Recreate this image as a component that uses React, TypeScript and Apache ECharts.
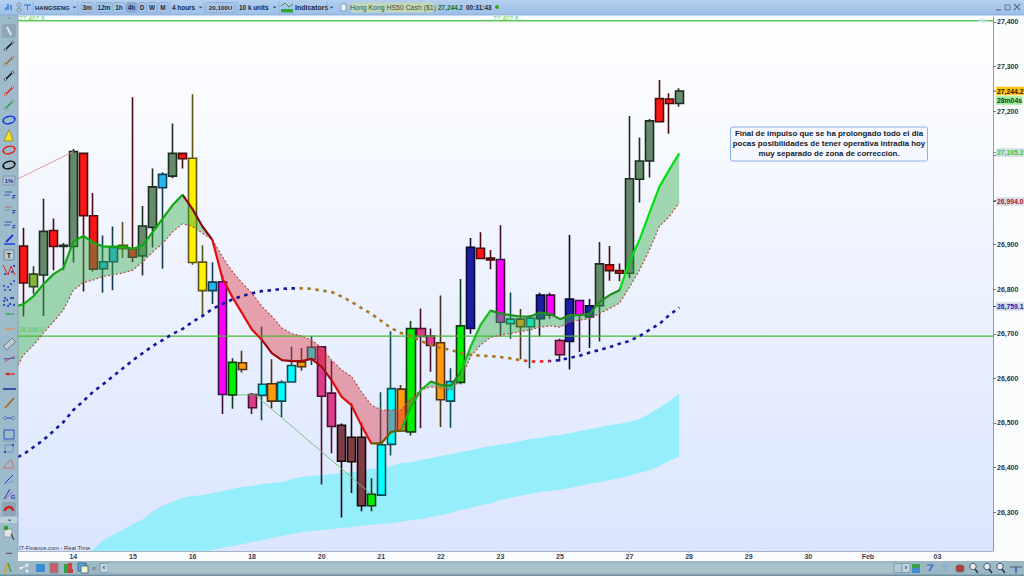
import React, { useEffect, useRef } from "react";
import * as echarts from "echarts";

const candleColors = ["r","ol","gg","r","gg","gg","r","r","bl","bl","y","r","gg","gg","bl","gg","r","y","y","bl","m","g","o","p","c","o","c","c","o","c","p","p","br","br","br","g","c","c","o","g","p","p","o","c","g","n","r","r","m","c","o","c","n","m","p","n","m","n","gg","r","r","gg","gg","gg","r","r","gg"];
const bodyTop = [26897,26834,26930,26932,26899,27109,27105,26965,26862,26894,26899,26891,26942,27030,27058,27105,27105,27094,26861,26816,26817,26636,26635,26564,26587,26588,26591,26629,26637,26670,26671,26567,26495,26468,26468,26340,26451,26577,26576,26712,26712,26695,26680,26593,26718,26894,26892,26870,26867,26733,26733,26735,26787,26787,26685,26778,26775,26763,26857,26855,26842,27048,27088,27178,27228,27227,27245];
const bodyBottom = [26814,26806,26832,26896,26896,26896,26965,26845,26846,26862,26891,26872,26875,26939,27028,27054,27093,26860,26797,26797,26564,26563,26620,26534,26562,26549,26549,26592,26626,26643,26560,26492,26414,26413,26314,26314,26338,26452,26482,26480,26694,26674,26552,26549,26591,26712,26869,26866,26726,26723,26716,26716,26734,26742,26653,26683,26743,26738,26763,26842,26836,26836,27047,27088,27176,27217,27217];
const highs = [26938,26852,27003,26959,26904,27115,27106,27016,26921,26941,26951,27231,26987,27071,27063,27172,27105,27238,26899,26861,26832,26645,26662,26567,26716,26643,26596,26671,26668,26695,26673,26639,26499,26544,26501,26376,26569,26706,26585,26729,26757,26712,26786,26623,26823,26915,26928,26888,26944,26793,26756,26742,26792,26792,26689,26922,26776,26778,26906,26897,26858,27189,27141,27182,27270,27240,27251];
const lows = [26739,26790,26740,26843,26843,26860,26795,26840,26792,26798,26870,26861,26831,26894,26846,27049,27071,26855,26742,26767,26520,26532,26613,26520,26506,26533,26513,26592,26617,26630,26362,26432,26288,26343,26302,26302,26338,26427,26480,26472,26488,26615,26491,26489,26587,26700,26869,26845,26694,26689,26643,26623,26694,26734,26638,26620,26659,26668,26683,26819,26818,26825,26995,27051,27176,27149,27210];

// First value of each line belongs to the left edge of the plot, the rest to candles 0..66.
const fastLine = [26763,26767,26785,26812,26834,26848,26907,26920,26905,26896,26896,26896,26891,26899,26929,26959,26989,27012,26980,26941,26911,26825,26783,26746,26709,26686,26656,26641,26639,26639,26644,26626,26596,26559,26540,26495,26454,26454,26480,26483,26537,26574,26593,26585,26584,26613,26671,26720,26752,26746,26742,26739,26739,26748,26745,26733,26742,26742,26745,26772,26787,26798,26862,26911,26971,27030,27068,27105];
const slowLine = [26630,26653,26675,26702,26727,26754,26798,26815,26821,26829,26832,26837,26843,26862,26884,26903,26929,26947,26941,26926,26911,26873,26840,26814,26791,26761,26739,26713,26700,26695,26686,26668,26641,26619,26604,26570,26540,26529,26529,26529,26555,26574,26581,26578,26574,26596,26649,26675,26692,26697,26701,26705,26709,26715,26718,26715,26727,26731,26734,26746,26757,26769,26805,26843,26888,26941,26963,26994];
const longLine = [26424,26430,26446,26462,26482,26502,26529,26549,26570,26587,26605,26623,26641,26657,26673,26686,26700,26711,26727,26740,26756,26767,26777,26785,26791,26796,26798,26801,26802,26802,26801,26797,26794,26784,26772,26758,26745,26729,26713,26702,26694,26684,26675,26668,26664,26657,26653,26651,26650,26648,26645,26641,26638,26638,26639,26641,26646,26651,26658,26664,26670,26678,26684,26695,26709,26722,26742,26759];

// Cloud starts at candle 6; values under the axis floor are clipped by the plot.
const cloudUpper = [26199,26217,26237,26249,26260,26273,26284,26302,26314,26323,26332,26336,26338,26343,26347,26352,26356,26359,26363,26365,26367,26374,26379,26381,26383,26385,26388,26390,26392,26397,26399,26403,26410,26412,26417,26421,26426,26430,26435,26439,26444,26448,26451,26455,26459,26464,26466,26471,26473,26477,26482,26486,26491,26495,26498,26502,26509,26520,26534,26549,26565];
const cloudLower = [26190,26190,26190,26190,26190,26190,26190,26190,26190,26190,26190,26190,26208,26215,26220,26224,26228,26233,26237,26242,26246,26251,26255,26257,26260,26262,26264,26266,26269,26271,26273,26275,26278,26282,26284,26289,26293,26298,26305,26309,26316,26320,26327,26332,26336,26341,26345,26347,26350,26354,26359,26363,26367,26372,26376,26381,26388,26394,26403,26415,26424];

const trendRed = [[-0.574, 27048], [5, 27109]];
const trendGreen = [[21.5, 26563], [23.3, 26563], [35, 26340]];
const levelTop = 27402.8;
const levelMid = 26695;

const yTicks = [26300,26400,26500,26600,26700,26800,26900,27000,27100,27200,27300,27400];
const yLabelsHiddenByTags = [27100];
const xTickPositions = [5,11,17,23,30,36,42,48,54,61,67,73,79,85,92];
const xTickLabels = ["14","15","16","18","20","21","22","23","25","27","28","29","30","Feb","03"];
const noteLines = ["Final de impulso que se ha prolongado todo el dia","pocas posibilidades de tener operativa intradia hoy","muy separado de zona de correccion."];

const X_MIN = -0.574;
const X_MAX = 97.6;
const PALETTE: any = {
  r: ["#ff1414", "#4a0c0c"], ol: ["#84b63c", "#2c4418"], gg: ["#668a6c", "#1c2c1e"], bl: ["#27b6ee", "#0e3c50"],
  y: ["#fff200", "#5c5414"], m: ["#ff00ff", "#3c1040"], g: ["#00f000", "#0c3c0c"], o: ["#ff9a10", "#4c3010"],
  p: ["#dc3c8c", "#4a1030"], c: ["#00ffff", "#0e4c54"], br: ["#7d3c46", "#140808"], n: ["#1a1fa4", "#0a0a30"],
};
const FONT = '"Liberation Sans", Arial, sans-serif';

const linePts = (vals: number[]) => vals.map((v, k) => [k === 0 ? X_MIN : k - 1, v]);

function runsOf(upper: number[], lower: number[]) {
  const runs: any[] = [];
  for (let k = 0; k + 1 < upper.length; k++) {
    const sign = upper[k] + upper[k + 1] - lower[k] - lower[k + 1] >= 0 ? 1 : -1;
    const last = runs[runs.length - 1];
    if (last && last.sign === sign) last.to = k + 1;
    else runs.push({ from: k, to: k + 1, sign });
  }
  return runs;
}

function bandSeries(name: string, xs: number[], upper: number[], lower: number[], up: string, down: string, z: number) {
  const runs = runsOf(upper, lower);
  return {
    type: "custom", name, z, clip: true, silent: true,
    data: runs.map((r) => [xs[r.from], upper[r.from]]),
    renderItem: (params: any, api: any) => {
      const r = runs[params.dataIndex];
      const pts: number[][] = [];
      for (let k = r.from; k <= r.to; k++) pts.push(api.coord([xs[k], upper[k]]));
      for (let k = r.to; k >= r.from; k--) pts.push(api.coord([xs[k], lower[k]]));
      return { type: "polygon", shape: { points: pts }, style: { fill: r.sign > 0 ? up : down } };
    },
  };
}

function chromeGraphics() {
  const els: any[] = [];
  const txt = (text: string, x: number, y: number, o: any = {}) =>
    els.push({ type: "text", z: 100, style: { text, x, y, fill: o.fill || "#1c2a3c", font: `${o.weight || "normal"} ${o.size || 7}px ${FONT}`, align: o.align || "left", verticalAlign: "middle", backgroundColor: o.bg, padding: o.pad, opacity: o.opacity } });
  const rect = (x: number, y: number, w: number, h: number, fill: string, stroke?: string, r = 0) =>
    els.push({ type: "rect", z: 99, shape: { x, y, width: w, height: h, r }, style: { fill, stroke, lineWidth: stroke ? 0.8 : 0 } });
  const seg = (x1: number, y1: number, x2: number, y2: number, stroke: string, lineWidth = 1.2) =>
    els.push({ type: "line", z: 101, shape: { x1, y1, x2, y2 }, style: { stroke, lineWidth } });
  const dot = (cx: number, cy: number, r: number, fill: string, stroke?: string) =>
    els.push({ type: "circle", z: 101, shape: { cx, cy, r }, style: { fill, stroke, lineWidth: 0.8 } });
  const oval = (cx: number, cy: number, rx: number, ry: number, stroke: string) => {
    els.push({ type: "ellipse", z: 101, shape: { cx: 0, cy: 0, rx, ry }, x: cx, y: cy, rotation: 0.25, style: { fill: "none", stroke, lineWidth: 1.5 } });
    dot(cx - rx + 0.5, cy + 1.5, 0.9, stroke); dot(cx + rx - 0.5, cy - 1.5, 0.9, stroke);
  };
  const tool = (y: number, stroke: string, head: string) => {
    seg(5, y + 4, 13, y - 4, stroke, 1.6); dot(5.5, y + 3.5, 1.2, "#dfe8ee", head); dot(12.5, y - 3.5, 1.2, "#dfe8ee", head);
  };

  // panels
  rect(0, 0, 1024, 15, new echarts.graphic.LinearGradient(0, 0, 0, 1, [{ offset: 0, color: "#b4cfef" }, { offset: 1, color: "#9dbfe8" }]) as any);
  seg(0, 15, 1024, 15, "#7ea6d6", 0.8);
  rect(0, 15, 18, 546, "#9dbbca");
  seg(18, 16, 18, 551, "#8298a8", 0.8);
  rect(0, 561, 1024, 15, "#9cb8c4");
  rect(0, 574.5, 1024, 1.5, "#6f8ea0");

  // top toolbar
  [[33, 43], [78, 92], [170, 34], [204, 33], [237, 37], [279, 48], [327, 7]].forEach(([x, w]) => seg(x, 1, x, 14, "#8aaedb", 0.7));
  seg(5, 10, 7, 7, "#3a7fd0", 1.5); seg(8, 10, 8, 4, "#3a7fd0", 1.5); seg(11, 10, 11, 5, "#3a7fd0", 1.5);
  dot(19, 5, 2, "#b8c8d8", "#708090"); dot(19, 10, 2, "#b8c8d8", "#708090");
  seg(24, 5, 31, 5, "#3a7fd0", 1.2); seg(27.5, 5, 27.5, 10, "#3a7fd0", 1);
  txt("HANGSENG", 35, 7.5, { weight: "bold", size: 6 });
  txt("⌄", 72, 6, { size: 6, weight: "bold" });
  const buttons: [string, number, number][] = [["3m", 81, 12], ["12m", 96, 16], ["1h", 113, 12], ["4h", 126, 11], ["D", 138, 8], ["W", 147, 10], ["M", 158, 10]];
  buttons.forEach(([label, x, w]) => {
    rect(x, 2.5, w, 10, label === "4h" ? "#8ea9c9" : "#a9c6ea", "#88a8d0", 2);
    txt(label, x + w / 2, 7.5, { weight: "bold", size: 6.4, align: "center" });
  });
  txt("4 hours", 172, 7.5, { weight: "bold", size: 6.4 });
  txt("⌄", 198, 6, { size: 6, weight: "bold" });
  rect(206, 2.5, 29, 10, "#a9c6ea", "#88a8d0", 2);
  txt("20,100U", 220.5, 7.5, { weight: "bold", size: 6.2, align: "center" });
  txt("10 k units", 239, 7.5, { weight: "bold", size: 6.4 });
  txt("⌄", 272, 6, { size: 6, weight: "bold" });
  seg(281, 6, 285, 3, "#3c8c50", 1); seg(285, 3, 289, 7, "#3c8c50", 1); seg(289, 7, 293, 4, "#3c8c50", 1);
  rect(281, 9, 12, 3.5, "#2fa83a");
  txt("Indicators", 295, 7.5, { weight: "bold", size: 7 });
  txt("⌄", 329, 6, { size: 6, weight: "bold" });
  rect(341, 4, 5, 7, "#eef2f6", "#8090a0");
  rect(351, 2.5, 84, 10, "#c2d8bc", undefined, 3);
  txt("Hong Kong HS50 Cash ($1)", 393, 7.5, { size: 6.9, align: "center", fill: "#37503c" });
  txt("27,244.2", 438, 7.5, { weight: "bold", size: 6.4, fill: "#146c2c" });
  txt("00:31:43", 466, 7.5, { weight: "bold", size: 6.4 });
  dot(497, 7, 2, "#38a818");
  seg(996, 10, 1001, 10, "#5c6c80", 1.2);
  rect(1005, 5, 5, 5, "none", "#5c6c80");
  seg(1014, 4, 1020, 10, "#5c6c80", 1.2); seg(1020, 4, 1014, 10, "#5c6c80", 1.2);

  // left toolbar
  txt("^", 9, 19, { size: 6, align: "center", fill: "#607080" });
  rect(2, 24, 14, 14, "#8ea6b6", undefined, 2);
  seg(7, 27, 11, 35, "#dde4ea", 2);
  tool(46, "#111111", "#333333"); tool(61, "#a06a2c", "#805020"); tool(76, "#111111", "#333333"); tool(91, "#e02020", "#c02020"); tool(105, "#2f9a50", "#2f8a40");
  oval(9, 120, 6, 3.6, "#1838e0");
  els.push({ type: "polygon", z: 101, shape: { points: [[4, 141], [13, 141], [11, 134], [9, 130], [7, 134]] }, style: { fill: "#f0e020", stroke: "#807010", lineWidth: 0.6 } });
  oval(9, 150, 6, 3.6, "#e02020"); oval(9, 165, 6, 3.6, "#101010");
  rect(3, 176, 12, 9, "#a9bccb", "#8090b0"); txt("1%", 9, 181, { size: 6, weight: "bold", align: "center", fill: "#2040a0" });
  const fibs = [195, 210, 225];
  fibs.forEach((y, k) => { seg(5, y - 3, 12, y - 3, k === 1 ? "#b06a60" : "#3050b0", 0.9); seg(4, y, 10, y, k === 1 ? "#60a070" : "#3050b0", 0.9); txt("F", 14, y + 2, { size: 6, weight: "bold", align: "center", fill: "#1838c8" }); });
  seg(4, 244, 15, 244, "#1838e0", 1.4); seg(6, 242, 13, 235, "#1838e0", 1.8);
  rect(4, 250, 10, 10, "#b8c8d4", "#607890", 1); txt("T", 9, 255.5, { size: 7, weight: "bold", align: "center", fill: "#222" });
  seg(3, 265, 8, 275, "#e02020", 1); seg(8, 275, 11, 266, "#e02020", 1); seg(11, 266, 15, 275, "#e02020", 1); dot(5, 274, 1, "#1838c8"); dot(12, 272, 1, "#1838c8"); dot(14, 266, 1, "#1838c8");
  [[5, 290], [8, 287], [11, 284], [14, 281], [4, 286], [10, 290]].forEach(([x, y]) => dot(x, y, 0.9, "#1838c8"));
  [[4, 305], [7, 300], [10, 304], [13, 298], [5, 298], [11, 298], [14, 305], [8, 306], [4, 301]].forEach(([x, y]) => dot(x, y, 1, "#1838c8"));
  seg(5, 314, 14, 314, "#30b050", 1.1); dot(8, 314, 1.1, "#30b050");
  seg(5, 329, 15, 329, "#e09060", 1.1); dot(8, 329, 1.1, "#e09060");
  els.push({ type: "rect", z: 101, shape: { x: -6, y: -2.5, width: 12, height: 5 }, x: 9.5, y: 344, rotation: 0.75, style: { fill: "#c0ccd4", stroke: "#607080", lineWidth: 0.8 } });
  seg(4, 362, 15, 356, "#c06060", 1); seg(4, 359, 15, 358, "#3050c0", 1); dot(9, 359, 1, "#e06020");
  seg(5, 374, 15, 374, "#e02020", 1.2); dot(8, 374, 1.4, "#e02020");
  seg(3, 389, 16, 389, "#1a2ea0", 1.5);
  seg(5, 408, 14, 398, "#a06a2c", 1.8);
  seg(5, 418, 13, 418, "#3050c0", 1); dot(5, 418, 1.3, "#e8eef2", "#2040a0"); dot(13, 418, 1.3, "#e8eef2", "#2040a0");
  rect(4, 430, 10, 9, "none", "#1838c8"); seg(3, 441, 16, 441, "#7090b0", 0.8);
  rect(5, 445, 8, 7, "none", "#6080c0"); dot(5, 452, 1, "#1838c8"); dot(13, 445, 1, "#1838c8");
  els.push({ type: "polygon", z: 101, shape: { points: [[3, 468], [14, 468], [11, 459]] }, style: { fill: "none", stroke: "#d06868", lineWidth: 0.9 } });
  seg(4, 484, 13, 475, "#1838c8", 1); seg(4, 484, 14, 481, "#70a0e0", 1);
  seg(4, 499, 10, 489, "#1838c8", 1); seg(5, 499, 13, 492, "#c060a0", 1); txt("G", 13, 497, { size: 6, weight: "bold", fill: "#1838c8", align: "center" });
  rect(2, 502, 14, 14, "#8ea6b6", undefined, 2);
  els.push({ type: "arc", z: 101, shape: { cx: 9, cy: 511, r: 4, startAngle: Math.PI, endAngle: 0 }, style: { stroke: "#d02020", lineWidth: 2.4, fill: "none" } });
  rect(0, 517, 18, 6, "#bcd2da");
  txt("⌄", 9, 518.5, { size: 6, weight: "bold", align: "center" });
  rect(4, 529, 8, 8, "#dfe6ea", "#8090a0"); dot(6, 528, 2.2, "#28a028"); seg(11, 534, 14, 540, "#404040", 1.2);
  txt("•••", 9, 553, { size: 6, weight: "bold", align: "center", fill: "#404860" });

  // bottom toolbar
  seg(4, 573, 8, 563, "#e0a010", 1.5); seg(8, 563, 11, 572, "#40a040", 1.5);
  seg(20, 568, 27, 566, "#e8eef2", 1); dot(21, 568, 1.4, "#f0f4f8"); dot(27, 565, 1.4, "#f0f4f8"); dot(27, 571, 1.4, "#f0f4f8");
  rect(36, 564, 9, 8, "#3a8ad8", undefined, 1);
  rect(50, 563, 8, 10, "#c8606a", "#788890");
  rect(64, 564, 4, 9, "#30a040"); rect(68, 563, 4, 6, "#d84040"); rect(68, 569, 5, 4, "#c04040");
  rect(78, 563, 8, 8, "#60a8e0", "#385878"); rect(81, 566, 7, 7, "#f0f4d0", "#385878");
  txt("«", 94, 568, { size: 7, align: "center", fill: "#506070" });
  rect(100, 563.5, 8, 9, "#c4d4dc", "#7a94a4"); txt("‹", 104, 567.5, { size: 7, align: "center", weight: "bold" });
  rect(108, 563.5, 786, 9, "#a8c2cc");
  rect(894, 563.5, 8, 9, "#b4cad2", "#7a94a4");
  rect(902, 563.5, 8, 9, "#c4d4dc", "#7a94a4"); txt("›", 906, 567.5, { size: 7, align: "center", weight: "bold" });
  rect(912, 564, 8, 4, "#38a048"); rect(912, 568, 8, 5, "#4090d0");
  seg(929, 571, 933, 565, "#3a70c8", 1.6); seg(933, 565, 927, 565, "#3a70c8", 1.2);
  seg(947, 571, 943, 565, "#88a8d0", 1.6); seg(943, 565, 949, 565, "#88a8d0", 1.2);
  rect(956, 565, 8, 7, "#b83840", "#608060", 2);
  [[973, "#2a3a50"], [987, "#2a3a50"], [1000, "#2a3a50"]].forEach(([x, c]: any) => { dot(x, 566.5, 3.2, "#e4ecf2", c); seg(x + 2, 569, x + 5, 573, c, 1.6); });
  seg(1010, 567, 1022, 567, "#506070", 1); seg(1016, 567, 1016, 573, "#2a60d0", 1.5);

  // labels on plot
  txt("27,402.8", 19, 18, { size: 6.6, fill: "#5ccc5c" });
  txt("27,402.8", 493, 18, { size: 6.6, fill: "#5ccc5c" });
  txt("4h", 978, 20, { size: 7, weight: "bold", fill: "#e2e6ea" });
  txt("26,695.0", 19, 329.5, { size: 6.4, fill: "#6fc878", weight: "bold" });
  txt("IT-Finance.com - Real Time", 19, 548, { size: 5.8, fill: "#283848" });

  // price tags
  const tag = (label: string, y: number, fill: string, bg: string) => txt(label, 996, y, { size: 6.8, weight: "bold", fill, bg, pad: [1, 0.5, 0.5, 1] });
  tag("27,244.2", 91, "#221800", "#ffc414");
  tag("28m04s", 100.5, "#10401c", "#a4ec9c");
  tag("27,105.2", 152.5, "#30cc40", "#d6dce6");
  tag("26,994.0", 201.5, "#b02030", "#d6dce6");
  tag("26,759.1", 306.5, "#1c20b0", "#d6dce6");
  seg(993, 91, 996, 91, "#404040", 0.8); seg(993, 152.5, 996, 152.5, "#30a040", 0.8); seg(993, 201.5, 996, 201.5, "#a02030", 0.8); seg(993, 306.5, 996, 306.5, "#2020a0", 0.8);

  // note
  els.push({ type: "rect", z: 99, shape: { x: 730.5, y: 127, width: 197, height: 34, r: 2 }, style: { fill: "#f5f8ff", stroke: "#8cb0ee", lineWidth: 1 } });
  noteLines.forEach((line, k) => txt(line, 829, 133 + k * 10, { size: 7.9, weight: "bold", align: "center", fill: "#16202e" }));
  return els;
}

export default function App() {
  const ref = useRef<HTMLDivElement>(null);
  useEffect(() => {
    const chart = echarts.init(ref.current!, undefined, { renderer: "svg" });
    const candles = bodyTop.map((t, i) => {
      const [fill, edge] = PALETTE[candleColors[i]];
      const falling = ["r", "m", "p", "y", "br"].includes(candleColors[i]);
      const open = falling ? t : bodyBottom[i];
      const close = falling ? bodyBottom[i] : t;
      return { value: [i, open, close, lows[i], highs[i]], itemStyle: { color: fill, color0: fill, borderColor: edge, borderColor0: edge, borderColorDoji: edge } };
    });
    const lineXs = fastLine.map((_, k) => (k === 0 ? X_MIN : k - 1));
    const cloudXs = cloudUpper.map((_, k) => k + 6);
    const lineBase = { type: "line", showSymbol: false, symbol: "none", silent: true, clip: true };
    const series: any[] = [
      bandSeries("cloud", cloudXs, cloudUpper, cloudLower, "#96eefc", "#96eefc", 1),
      { type: "candlestick", name: "HANGSENG", z: 3, barWidth: 8.6, encode: { x: 0, y: [1, 2, 3, 4] }, itemStyle: { borderWidth: 1.6 }, data: candles },
      bandSeries("band", lineXs, fastLine, slowLine, "rgba(60,175,80,0.45)", "rgba(222,50,60,0.42)", 4),
      { ...lineBase, name: "level top", z: 5, data: [[X_MIN, levelTop], [X_MAX, levelTop]], lineStyle: { color: "#5cc85c", width: 1.3 } },
      { ...lineBase, name: "level mid", z: 5, data: [[X_MIN, levelMid], [X_MAX, levelMid]], lineStyle: { color: "#44bb33", width: 1.2 } },
      { ...lineBase, name: "trend red", z: 5, data: trendRed, lineStyle: { color: "#e58a8a", width: 0.9 } },
      { ...lineBase, name: "trend green", z: 5, data: trendGreen, lineStyle: { color: "#6fbf70", width: 0.9 } },
      { ...lineBase, name: "long", z: 6, data: linePts(longLine), lineStyle: { width: 2.6, type: [3.5, 4.5] } },
      { ...lineBase, name: "slow", z: 6, data: linePts(slowLine), lineStyle: { color: "#bd4a4a", width: 1.2, type: [2, 2] } },
      { ...lineBase, name: "fast", z: 7, data: linePts(fastLine), lineStyle: { width: 2.2 } },
    ];
    const piecesOf = (spec: [number, number, string][]) => spec.map(([gte, lt, color]) => ({ gte, lt, color }));
    chart.setOption({
      animation: false,
      backgroundColor: "#fbfcfe",
      grid: {
        show: true, left: 18, top: 17, width: 975, height: 534, borderWidth: 0,
        backgroundColor: new echarts.graphic.LinearGradient(0, 0, 0, 1, [{ offset: 0, color: "#ffffff" }, { offset: 1, color: "#dbe5fe" }]),
      },
      xAxis: {
        type: "value", min: X_MIN, max: X_MAX, splitLine: { show: false },
        axisLine: { show: true, onZero: false, lineStyle: { color: "#a8b4c4", width: 1 } },
        axisTick: { show: true, length: 2, lineStyle: { color: "#c0c8d0" }, customValues: xTickPositions },
        axisLabel: { customValues: xTickPositions, margin: 2, color: "#3a4050", fontFamily: "Liberation Sans", fontSize: 7, fontWeight: "bold", formatter: (v: number) => xTickLabels[xTickPositions.indexOf(v)] ?? "" },
      },
      yAxis: {
        type: "value", position: "right", min: 26212.6, max: 27411.2, scale: true, splitLine: { show: false },
        axisLine: { show: true, onZero: false, lineStyle: { color: "#8c9cb0", width: 1 } },
        axisTick: { show: true, length: 3, lineStyle: { color: "#707c8c" }, customValues: yTicks },
        axisLabel: { customValues: yTicks.filter((v) => !yLabelsHiddenByTags.includes(v)), margin: 4, color: "#2c3240", fontFamily: "Liberation Sans", fontSize: 7, fontWeight: "bold", formatter: (v: number) => v.toLocaleString("en-US") },
      },
      visualMap: [
        { show: false, type: "piecewise", seriesIndex: 7, dimension: 0, pieces: piecesOf([[-2, 27.5, "#14149c"], [27.5, 50.5, "#a87a20"], [50.5, 53, "#ee2020"], [53, 100, "#14149c"]]) },
        { show: false, type: "piecewise", seriesIndex: 9, dimension: 0, pieces: piecesOf([[-2, 16, "#10a810"], [16, 19, "#8a0808"], [19, 24, "#e01010"], [24, 31, "#a00a0a"], [31, 35, "#e01010"], [35, 38, "#6a5a00"], [38, 41, "#18b018"], [41, 44, "#228822"], [44, 47, "#18c018"], [47, 60, "#1f8f1f"], [60, 100, "#00e010"]]) },
      ],
      graphic: { elements: chromeGraphics() },
      series,
    });
    return () => chart.dispose();
  }, []);
  return <div ref={ref} style={{ position: "fixed", left: 0, top: 0, width: 1024, height: 576, background: "#fbfcfe" }} />;
}
